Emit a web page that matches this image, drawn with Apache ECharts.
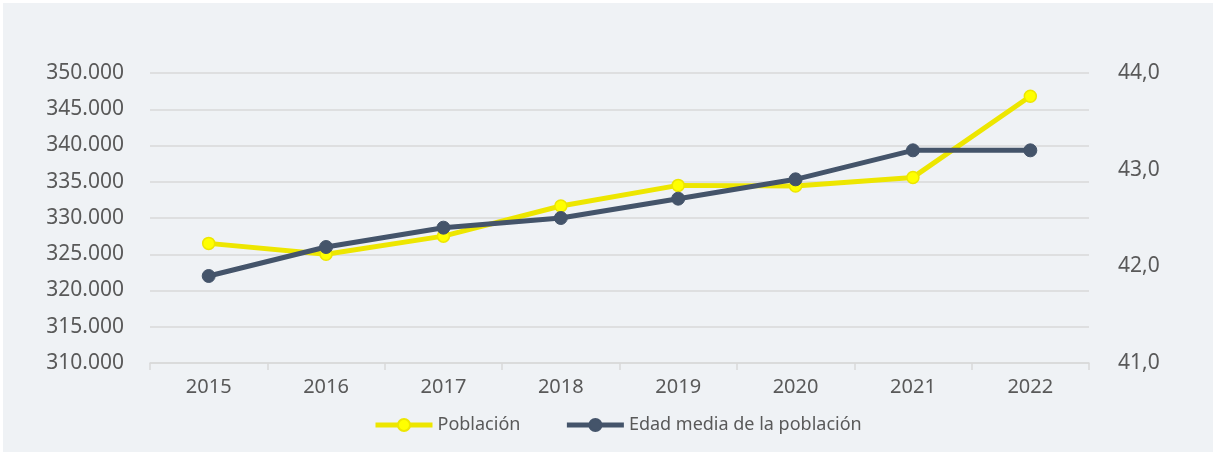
<!DOCTYPE html>
<html>
<head>
<meta charset="utf-8">
<script src="https://cdn.jsdelivr.net/npm/echarts@6/dist/echarts.min.js"></script>
<style>
  html, body { margin: 0; padding: 0; background: #ffffff; }
  #chart { position: absolute; left: 3px; top: 3px; width: 1210px; height: 449px; background: #eff2f5; }
</style>
</head>
<body>
<div id="chart"></div>
<script>
// años
const years = ['2015', '2016', '2017', '2018', '2019', '2020', '2021', '2022']
// población (eje izquierdo)
const poblacion = [326500, 325000, 327500, 331650, 334500, 334400, 335600, 346800]
// edad media (eje derecho)
const edadMedia = [41.9, 42.2, 42.4, 42.5, 42.7, 42.9, 43.2, 43.2]

const textColor = '#595959'
const fontName = 'Noto Sans'

let myChart = echarts.init(document.getElementById('chart'))
myChart.setOption({
  animation: false,
  textStyle: { fontFamily: fontName },
  grid: { left: 147, right: 124, top: 70, bottom: 89 },
  legend: {
    left: 365,
    top: 408,
    itemWidth: 57,
    itemHeight: 15,
    itemGap: 44,
    lineStyle: { width: 5 },
    textStyle: { color: textColor, fontSize: 18, fontFamily: fontName },
    data: ['Población', 'Edad media de la población']
  },
  xAxis: {
    type: 'category',
    data: years,
    axisLine: { lineStyle: { color: '#d9d9d9', width: 1.5 } },
    axisTick: { show: true, length: 7, lineStyle: { color: '#d9d9d9', width: 1.5 } },
    axisLabel: { color: textColor, fontSize: 20, margin: 14 }
  },
  yAxis: [
    {
      type: 'value',
      min: 310000,
      max: 350000,
      interval: 5000,
      axisLine: { show: false },
      axisTick: { show: false },
      splitLine: { lineStyle: { color: '#d9d9d9', width: 1.5 } },
      axisLabel: {
        color: textColor,
        fontSize: 21,
        margin: 26,
        formatter: v => Math.round(v / 1000) + '.000'
      }
    },
    {
      type: 'value',
      min: 41,
      max: 44,
      interval: 1,
      axisLine: { show: false },
      axisTick: { show: false },
      splitLine: { show: false },
      axisLabel: {
        color: textColor,
        fontSize: 21,
        margin: 29,
        formatter: v => v.toFixed(1).replace('.', ',')
      }
    }
  ],
  series: [
    {
      name: 'Población',
      type: 'line',
      yAxisIndex: 0,
      data: poblacion,
      symbol: 'circle',
      symbolSize: 12,
      lineStyle: { color: '#ede600', width: 5 },
      itemStyle: { color: '#ffff00', borderColor: '#ede600', borderWidth: 1.5 }
    },
    {
      name: 'Edad media de la población',
      type: 'line',
      yAxisIndex: 1,
      data: edadMedia,
      symbol: 'circle',
      symbolSize: 13,
      lineStyle: { color: '#44546a', width: 5 },
      itemStyle: { color: '#44546a', borderColor: '#44546a', borderWidth: 1 }
    }
  ]
})
</script>
</body>
</html>
